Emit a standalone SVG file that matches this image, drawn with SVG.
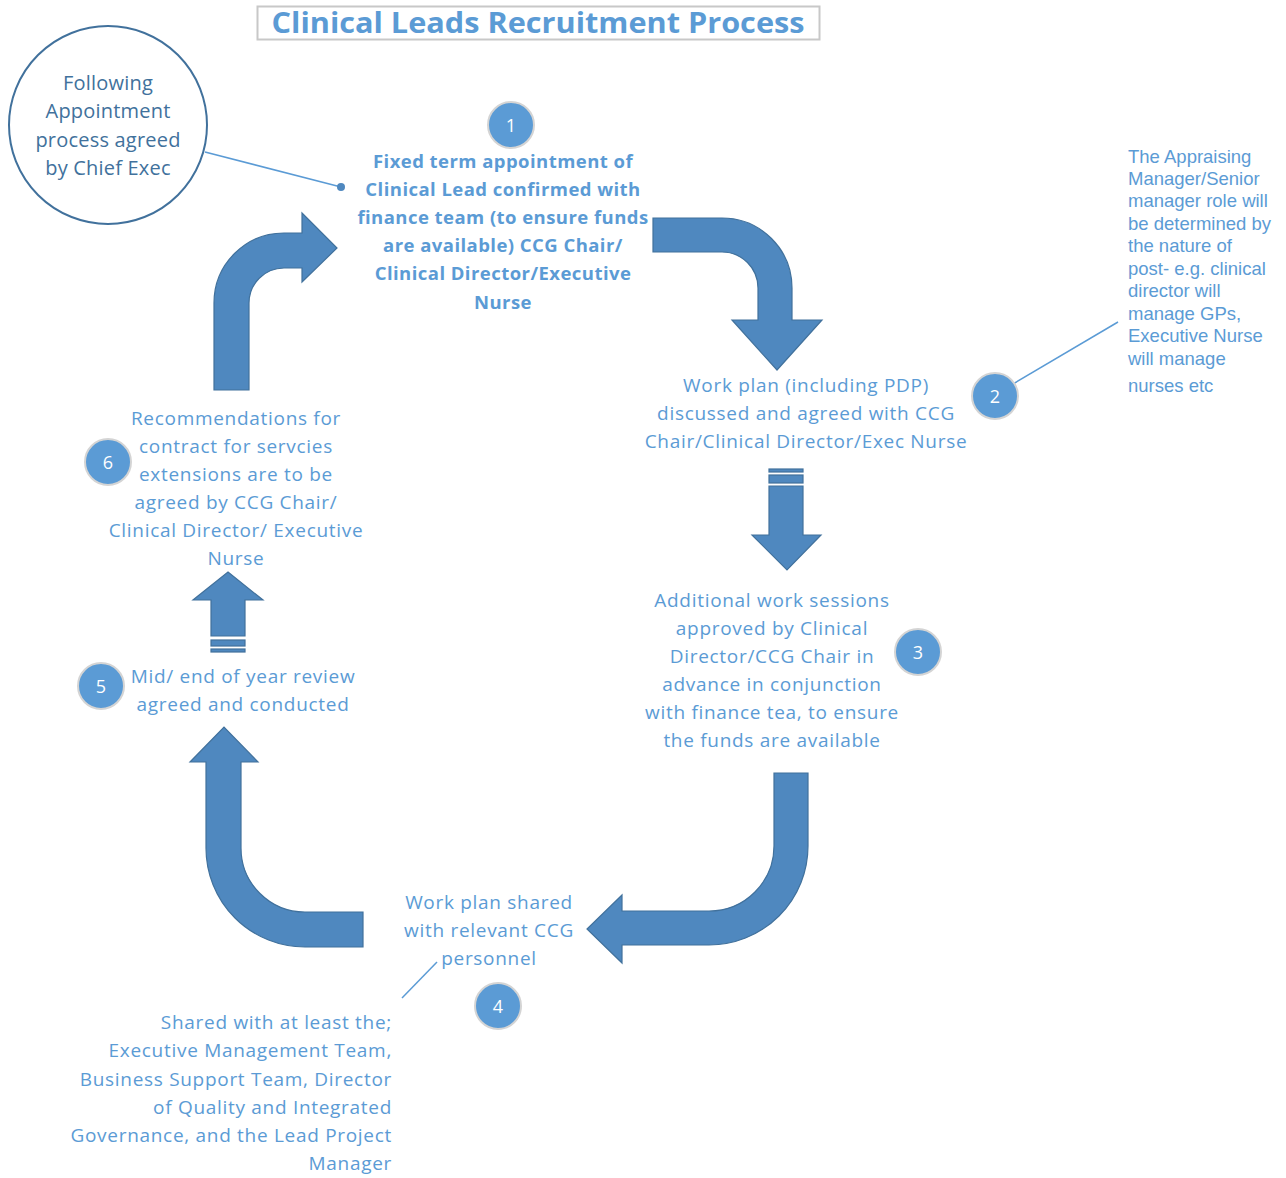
<svg xmlns="http://www.w3.org/2000/svg" width="1286" height="1178" viewBox="0 0 1286 1178">
<style>
.t{font-family:"Open Sans","Liberation Sans",sans-serif;font-size:19px;letter-spacing:0.7px;fill:#5B9BD5;text-anchor:middle}
.b{font-weight:bold;font-size:18.5px;letter-spacing:0.45px}
.r{text-anchor:end}
.a{font-family:"Liberation Sans",Arial,sans-serif;font-size:18.5px;fill:#5B9BD5}
.arw{fill:#4F88BF;stroke:#41719C;stroke-width:1.2}
.bd circle{fill:#5B9BD5;stroke:#D4D4D4;stroke-width:2}
.bd text{font-family:"Open Sans","Liberation Sans",sans-serif;font-size:18px;fill:#fff;text-anchor:middle}
.ln{stroke:#5B9BD5;stroke-width:1.5;fill:none}
</style>
<rect width="1286" height="1178" fill="#fff"/>
<g id="title">
<rect x="257.5" y="6.5" width="562" height="33" fill="#fff" stroke="#C8C8C8" stroke-width="2"/>
<text x="538" y="33" class="t" style="font-weight:bold;font-size:28px;letter-spacing:0" textLength="533" lengthAdjust="spacingAndGlyphs">Clinical Leads Recruitment Process</text>
</g>
<g id="connectors">
<path class="arw" d="M653,218 L722,218 A70,70 0 0 1 792,288 L792,320 L822,320 L777,370 L732,320 L758,320 L758,288 A36,36 0 0 0 722,252 L653,252 Z"/>
<g class="arw">
<rect x="769" y="469" width="34" height="3"/>
<rect x="769" y="475" width="34" height="8"/>
<path d="M769,486 L803,486 L803,535 L821,535 L787,570 L752,535 L769,535 Z"/>
</g>
<path class="arw" d="M774,773 L808,773 L808,846 A99,99 0 0 1 709,945 L622,945 L622,963 L587,929 L622,895 L622,911 L709,911 A65,65 0 0 0 774,846 Z"/>
<path class="arw" d="M363,912 L305,912 A64,64 0 0 1 241,848 L241,762 L258,762 L224,727 L190,762 L206,762 L206,848 A99,99 0 0 0 305,947 L363,947 Z"/>
<g class="arw">
<path d="M228,572 L263,600 L245,600 L245,636 L211,636 L211,600 L193,600 Z"/>
<rect x="211" y="640" width="34" height="6"/>
<rect x="211" y="649" width="34" height="3"/>
</g>
<path class="arw" d="M214,390 L214,303 A70,70 0 0 1 284,233 L302,233 L302,213 L337,248 L302,282 L302,268 L284,268 A35,35 0 0 0 249,303 L249,390 Z"/>
<line class="ln" x1="205" y1="152" x2="341" y2="187"/>
<circle cx="341" cy="187" r="4" fill="#4F88BF"/>
<line class="ln" x1="1013" y1="384" x2="1118" y2="322"/>
<line class="ln" x1="402" y1="998" x2="437" y2="962"/>
</g>
<g id="start">
<circle cx="108" cy="125" r="99" fill="#fff" stroke="#41719C" stroke-width="2"/>
<text class="t" style="fill:#41719C;font-size:20px;letter-spacing:0.2px" x="108"><tspan x="108" y="90">Following</tspan><tspan x="108" y="118">Appointment</tspan><tspan x="108" y="147">process agreed</tspan><tspan x="108" y="175">by Chief Exec</tspan></text>
</g>
<g id="step1">
<g class="bd"><circle cx="511" cy="125" r="23"/><text x="511" y="132">1</text></g>
<text class="t b"><tspan x="503" y="168">Fixed term appointment of</tspan><tspan x="503" y="196">Clinical Lead confirmed with</tspan><tspan x="503" y="224">finance team (to ensure funds</tspan><tspan x="503" y="252">are available) CCG Chair/</tspan><tspan x="503" y="280">Clinical Director/Executive</tspan><tspan x="503" y="309">Nurse</tspan></text>
</g>
<g id="step2">
<g class="bd"><circle cx="995" cy="396" r="23"/><text x="995" y="403">2</text></g>
<text class="t"><tspan x="806" y="392">Work plan (including PDP)</tspan><tspan x="806" y="420">discussed and agreed with  CCG</tspan><tspan x="806" y="448">Chair/Clinical Director/Exec Nurse</tspan></text>
</g>
<g id="note2">
<text class="a"><tspan x="1128" y="163">The Appraising</tspan><tspan x="1128" y="185">Manager/Senior</tspan><tspan x="1128" y="207">manager role will</tspan><tspan x="1128" y="230">be determined by</tspan><tspan x="1128" y="252">the nature of</tspan><tspan x="1128" y="275">post- e.g. clinical</tspan><tspan x="1128" y="297">director will</tspan><tspan x="1128" y="320">manage GPs,</tspan><tspan x="1128" y="342">Executive Nurse</tspan><tspan x="1128" y="365">will manage</tspan><tspan x="1128" y="392">nurses etc</tspan></text>
</g>
<g id="step3">
<g class="bd"><circle cx="918" cy="652" r="23"/><text x="918" y="659">3</text></g>
<text class="t"><tspan x="772" y="607">Additional work sessions</tspan><tspan x="772" y="635">approved by Clinical</tspan><tspan x="772" y="663">Director/CCG Chair in</tspan><tspan x="772" y="691">advance in conjunction</tspan><tspan x="772" y="719">with finance tea, to ensure</tspan><tspan x="772" y="747">the funds are available</tspan></text>
</g>
<g id="step4">
<g class="bd"><circle cx="498" cy="1006" r="23"/><text x="498" y="1013">4</text></g>
<text class="t"><tspan x="489" y="909">Work plan shared</tspan><tspan x="489" y="937">with relevant CCG</tspan><tspan x="489" y="965">personnel</tspan></text>
</g>
<g id="note4">
<text class="t r"><tspan x="392" y="1029">Shared with at least the;</tspan><tspan x="392" y="1057">Executive Management Team,</tspan><tspan x="392" y="1086">Business Support Team, Director</tspan><tspan x="392" y="1114">of Quality and Integrated</tspan><tspan x="392" y="1142">Governance, and the Lead Project</tspan><tspan x="392" y="1170">Manager</tspan></text>
</g>
<g id="step5">
<g class="bd"><circle cx="101" cy="686" r="23"/><text x="101" y="693">5</text></g>
<text class="t"><tspan x="243" y="683">Mid/ end of year review</tspan><tspan x="243" y="711">agreed and conducted</tspan></text>
</g>
<g id="step6">
<g class="bd"><circle cx="108" cy="462" r="23"/><text x="108" y="469">6</text></g>
<text class="t"><tspan x="236" y="425">Recommendations for</tspan><tspan x="236" y="453">contract for servcies</tspan><tspan x="236" y="481">extensions are to be</tspan><tspan x="236" y="509">agreed by CCG Chair/</tspan><tspan x="236" y="537">Clinical Director/ Executive</tspan><tspan x="236" y="565">Nurse</tspan></text>
</g>
</svg>
